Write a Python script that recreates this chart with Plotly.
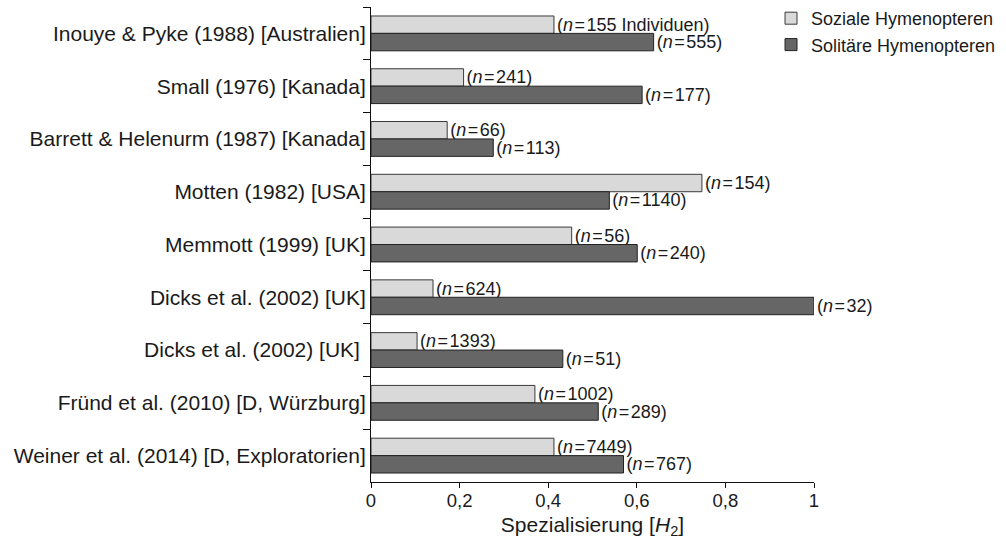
import plotly.graph_objects as go

studies = [
    "Inouye & Pyke (1988) [Australien]",
    "Small (1976) [Kanada]",
    "Barrett & Helenurm (1987) [Kanada]",
    "Motten (1982) [USA]",
    "Memmott (1999) [UK]",
    "Dicks et al. (2002) [UK]",
    "Dicks et al. (2002) [UK] ",
    "Fründ et al. (2010) [D, Würzburg]",
    "Weiner et al. (2014) [D, Exploratorien]",
]
soziale = [0.413, 0.209, 0.172, 0.747, 0.453, 0.140, 0.104, 0.370, 0.413]
solitaere = [0.638, 0.612, 0.276, 0.538, 0.601, 1.0, 0.433, 0.513, 0.570]
n_soziale = ["155 Individuen", "241", "66", "154", "56", "624", "1393", "1002", "7449"]
n_solitaere = ["555", "177", "113", "1140", "240", "32", "51", "289", "767"]

FONT = "Liberation Sans, Arial, Helvetica, sans-serif"
TXT = "#1a1a1a"
hs = "\u200a"

def lab(n):
    return f"({'<i>n</i>'}{hs}={hs}{n})"

fig = go.Figure()
fig.add_trace(go.Bar(
    y=studies, x=soziale, orientation="h", name="Soziale Hymenopteren",
    marker=dict(color="#d9d9d9", line=dict(color="#3a3a3a", width=1)),
    text=[lab(n) for n in n_soziale], textposition="outside",
    textfont=dict(family=FONT, size=18, color=TXT),
    cliponaxis=False, constraintext="none",
))
fig.add_trace(go.Bar(
    y=studies, x=solitaere, orientation="h", name="Solitäre Hymenopteren",
    marker=dict(color="#666666", line=dict(color="#222222", width=1)),
    text=[lab(n) for n in n_solitaere], textposition="outside",
    textfont=dict(family=FONT, size=18, color=TXT),
    cliponaxis=False, constraintext="none",
))

fig.update_layout(
    width=1006, height=539,
    margin=dict(l=371, r=192, t=7, b=57, autoexpand=False),
    paper_bgcolor="white", plot_bgcolor="white",
    barmode="group", bargap=0.34, bargroupgap=0,
    separators=",.",
    font=dict(family=FONT, color=TXT),
    showlegend=True,
    legend=dict(x=0.903, y=1.007, xref="paper", yref="container",
                xanchor="left", yanchor="top",
                font=dict(family=FONT, size=18, color=TXT),
                bgcolor="rgba(0,0,0,0)", itemwidth=30, tracegroupgap=0),
)
fig.update_xaxes(
    range=[0, 1], tickvals=[0, 0.2, 0.4, 0.6, 0.8, 1],
    showgrid=False, zeroline=False,
    showline=True, linecolor="#111111", linewidth=1,
    ticks="outside", ticklen=5, tickcolor="#111111",
    ticklabelstandoff=-3,
    tickfont=dict(family=FONT, size=18.5, color=TXT),
    title=dict(text="Spezialisierung [<i>H</i><sub>2</sub>]",
               font=dict(family=FONT, size=21, color=TXT), standoff=8),
)
fig.update_yaxes(
    autorange="reversed", type="category",
    showgrid=False, zeroline=False,
    showline=True, linecolor="#111111", linewidth=1,
    ticks="outside", ticklen=7, tickcolor="#111111", tickson="boundaries",
    tickfont=dict(family=FONT, size=21, color=TXT),
)

fig.write_html("out.html", config={"displayModeBar": False},
               post_script="document.body.style.margin='0px';")
